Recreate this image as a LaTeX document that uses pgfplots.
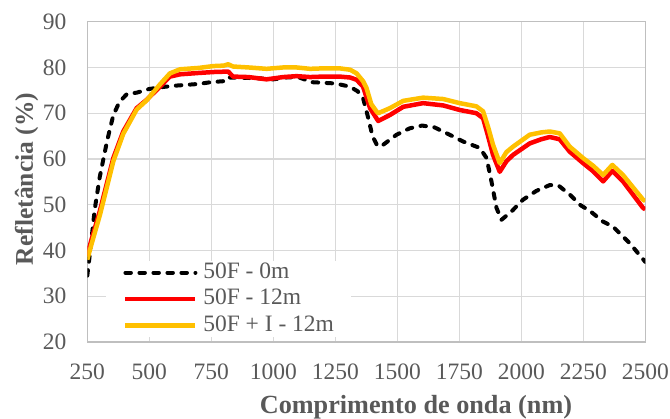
\documentclass[border=0pt]{standalone}
\usepackage{pgfplots}
\pgfplotsset{compat=1.18}
\usepackage{fontspec}
\setmainfont{Liberation Serif}
\definecolor{txtgray}{HTML}{595959}
\definecolor{gridgray}{HTML}{D9D9D9}
\definecolor{axgray}{HTML}{BFBFBF}
\definecolor{serred}{HTML}{FF0000}
\definecolor{seryel}{HTML}{FFC000}

\begin{document}
\begin{tikzpicture}
\useasboundingbox (-87.3pt,-77pt) rectangle (582.7pt,342pt);
\begin{axis}[
  scale only axis,
  width=558pt, height=320.3pt,
  xmin=250, xmax=2500, ymin=20, ymax=90,
  xtick={250,500,...,2500}, ytick={20,30,...,90},
  /pgf/number format/assume math mode=true,
  /pgf/number format/1000 sep={},
  major tick length=0pt,
  tick label style={font=\fontsize{23.5}{28}\selectfont, text=txtgray, inner sep=0pt},
  yticklabel shift=20.6pt,
  xticklabel shift=21.3pt,
  xmajorgrids, ymajorgrids,
  grid style={draw=gridgray, line width=1.3pt},
  axis line style={draw=axgray, line width=1.3pt},
  xlabel={Comprimento de onda (nm)},
  xlabel style={font=\bfseries\fontsize{26.2}{30}\selectfont, text=txtgray, inner sep=0pt,
    at={(axis description cs:0.589,0)}, anchor=base, yshift=-71.3pt},
  legend style={at={(axis description cs:0.0335,0.253)}, anchor=north west,
    fill=white, draw=none, inner xsep=17pt, inner ysep=0pt,
    font=\fontsize{23.5}{26}\selectfont, text=txtgray,
    nodes={inner sep=0pt, text height=17pt, text depth=6pt},
    row sep=3.5pt, column sep=5.6pt},
  legend cell align=left,
  legend image code/.code={\draw[#1] (0pt,0pt) -- (70pt,0pt);},
  every axis plot/.append style={line join=round},
]
% 50F - 0m
\addplot[black, line width=4pt, line cap=round, dash pattern=on 5.5pt off 8.5pt] coordinates {
(250,34.5) (262,40) (280,49) (300,56) (330,64) (355,69.6) (380,72.5) (410,74.2)
(450,74.5) (500,75.3) (550,75.7) (600,76) (700,76.4) (750,76.8) (800,77)
(812,77.8) (850,77.8) (950,77.6) (1000,77.4) (1050,77.8) (1100,77.9) (1130,77.3)
(1150,76.8) (1250,76.5) (1309,75.8) (1340,74.8) (1362,73.3) (1383,68.9) (1400,65)
(1420,62.8) (1443,63.1) (1497,65.3) (1550,66.7) (1600,67.3) (1650,66.9) (1700,65.6)
(1766,63.8) (1833,62.4) (1860,60.2) (1880,55) (1900,49.3) (1920,46.7) (1960,48.5)
(2007,51.1) (2060,53) (2115,54.3) (2150,54.2) (2200,52) (2236,50) (2280,48.5)
(2330,46.3) (2370,45.2) (2437,41.6) (2500,37.5)
};
\addlegendentry{50F - 0m}
% 50F - 12m
\addplot[serred, line width=4.5pt] coordinates {
(250,38.8) (265,42) (301,48.7) (355,60.2) (395,66) (449,71.1) (489,72.9) (543,75.8)
(583,78.0) (624,78.5) (700,78.8) (758,79.0) (818,79.1) (838,78.0) (900,77.9)
(973,77.4) (1040,77.9) (1094,78.1) (1148,77.9) (1200,78.0) (1268,78.0) (1310,77.8)
(1336,77.3) (1362,75.8) (1390,71.1) (1423,68.3) (1470,69.6) (1524,71.4) (1604,72.2)
(1685,71.7) (1752,70.7) (1819,70.0) (1846,68.9) (1866,65) (1886,60.9) (1913,57.2)
(1940,59.5) (1967,60.9) (2034,63.4) (2080,64.3) (2115,64.8) (2155,64.3) (2195,61.6)
(2249,59.1) (2290,57.3) (2330,55.1) (2367,57.4) (2410,55.1) (2491,49.3) (2500,49)
};
\addlegendentry{50F - 12m}
% 50F + I - 12m
\addplot[seryel, line width=4.5pt] coordinates {
(250,38) (265,41) (301,47.8) (355,59.5) (395,65.5) (449,70.8) (489,72.8) (543,76.3)
(583,78.7) (624,79.6) (700,79.9) (758,80.3) (800,80.4) (818,80.7) (838,80.2)
(900,80.0) (973,79.7) (1040,80.0) (1094,80.0) (1148,79.7) (1200,79.8) (1268,79.8)
(1310,79.5) (1336,78.7) (1362,77) (1376,75.5) (1395,72) (1416,70.4) (1423,70.0)
(1470,71.1) (1524,72.7) (1604,73.4) (1685,73.1) (1752,72.2) (1819,71.5) (1846,70.4)
(1866,67) (1886,63.1) (1913,59.1) (1940,61.5) (1967,62.7) (2034,65.3) (2080,65.8)
(2115,66.0) (2155,65.6) (2195,62.7) (2249,60.2) (2290,58.5) (2330,56.5) (2367,58.7)
(2410,56.5) (2491,51.1) (2500,50.8)
};
\addlegendentry{50F + I - 12m}
\end{axis}
% axis title for the reflectance scale
\node[font=\bfseries\fontsize{25.5}{30}\selectfont, text=txtgray, inner sep=0pt,
  rotate=90, anchor=base] at (-54.3pt,163pt) {Refletância (\%)};
\end{tikzpicture}
\end{document}
